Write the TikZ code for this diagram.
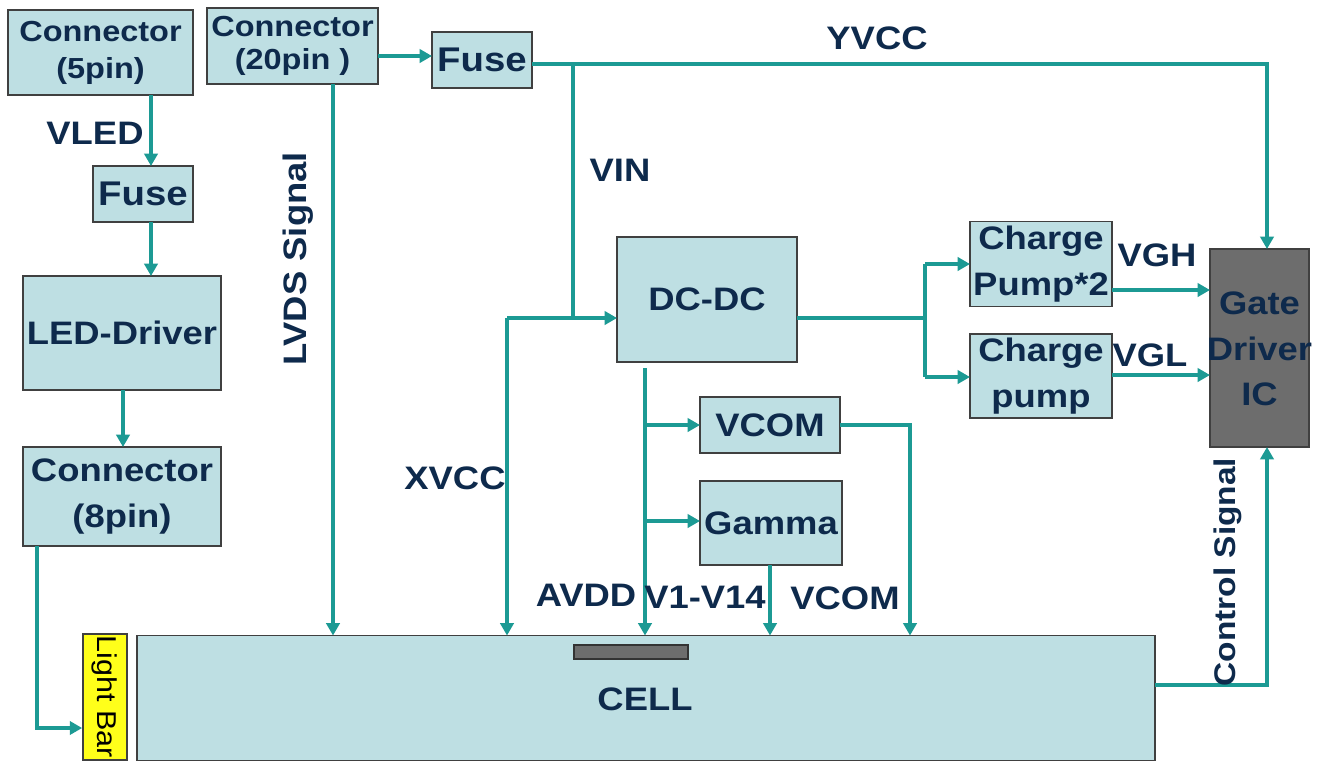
\documentclass[tikz,border=0pt]{standalone}
\usepackage{fontspec}
\setmainfont{Liberation Sans}[FakeStretch=1.12]
\usetikzlibrary{arrows.meta}
\definecolor{boxfill}{HTML}{BEDFE3}
\definecolor{linec}{HTML}{1C9A94}
\definecolor{txt}{HTML}{0E2A4C}
\definecolor{gatefill}{HTML}{6D6D6D}
\definecolor{lbar}{HTML}{FFFF1A}
\begin{document}
\begin{tikzpicture}[x=0.02cm,y=-0.02cm,
  box/.style={draw=black!75,line width=1pt,fill=boxfill,inner sep=0pt,outer sep=0pt,align=center,text=txt,
    font=\bfseries\fontsize{18.5}{22}\selectfont},
  tallbox/.style={box,font=\bfseries\fontsize{18.5}{26}\selectfont},
  smallbox/.style={box,font=\bfseries\fontsize{16.5}{21}\selectfont},
  ln/.style={draw=linec,line width=2.4pt},
  arr/.style={ln,-{Triangle[length=7pt,width=7.5pt]}},
  lbl/.style={text=txt,inner sep=0pt,font=\bfseries\fontsize{18.5}{20}\selectfont}]
\useasboundingbox[fill=white] (0,0) rectangle (1322,765);

% boxes
\node[smallbox,minimum width=3.70cm,minimum height=1.70cm] (c5) at (100.5,52.5) {Connector\\(5pin)};
\node[smallbox,minimum width=3.42cm,minimum height=1.52cm,font=\bfseries\fontsize{16.5}{19}\selectfont] (c20) at (292.5,46) {Connector\\(20pin )};
\node[box,minimum width=2.00cm,minimum height=1.12cm,font=\bfseries\fontsize{19.5}{22}\selectfont] (fuse1) at (482,60) {Fuse};
\node[box,minimum width=2.00cm,minimum height=1.12cm,font=\bfseries\fontsize{19.5}{22}\selectfont] (fuse2) at (143,194) {Fuse};
\node[box,minimum width=3.96cm,minimum height=2.28cm] (led) at (122,333) {LED-Driver};
\node[tallbox,minimum width=3.96cm,minimum height=1.98cm] (c8) at (122,496.5) {Connector\\(8pin)};
\node[draw=black!75,line width=1pt,fill=lbar,inner sep=0pt,minimum width=0.88cm,minimum height=2.52cm] (light) at (105,697) {};
\node[rotate=-90,inner sep=0pt,font=\fontsize{15.5}{17}\selectfont] (lighttxt) at (105,697) {Light Bar};
\node[box,minimum width=20.36cm,minimum height=2.50cm] (cell) at (646,698) {};
\node[draw=black!80,line width=1pt,fill=gatefill,inner sep=0pt,minimum width=2.28cm,minimum height=0.28cm] (bar) at (631,652) {};
\node[lbl,font=\bfseries\fontsize{18.5}{20}\selectfont] (celltxt) at (645,699) {CELL};
\node[box,minimum width=3.60cm,minimum height=2.50cm] (dcdc) at (707,299.5) {DC-DC};
\node[box,minimum width=2.80cm,minimum height=1.12cm] (vcom) at (770,425) {VCOM};
\node[box,minimum width=2.84cm,minimum height=1.68cm] (gamma) at (771,523) {Gamma};
\node[tallbox,minimum width=2.84cm,minimum height=1.70cm] (cp2) at (1041,264) {Charge\\Pump*2};
\node[tallbox,minimum width=2.84cm,minimum height=1.68cm] (cp1) at (1041,376) {Charge\\pump};
\node[box,fill=gatefill,minimum width=1.98cm,minimum height=3.96cm] (gate) at (1259.5,348) {};
\node[align=center,inner sep=0pt,text=txt,font=\bfseries\fontsize{18.5}{26}\selectfont] (gatetxt) at (1259.5,349) {Gate\\Driver\\IC};

% helper coordinates
\coordinate (xv) at (151,0);
\coordinate (x8) at (123,0);
\coordinate (k1) at (37,728);
\coordinate (xl) at (333,0);
\coordinate (j1) at (573,64);
\coordinate (k3) at (1267,64);
\coordinate (j2) at (573,318);
\coordinate (k2) at (507,318);
\coordinate (x645) at (645,0);
\coordinate (b1) at (645,425);
\coordinate (b2) at (645,521);
\coordinate (x770) at (770,0);
\coordinate (k4) at (910,425);
\coordinate (j3) at (925,318);
\coordinate (j4) at (925,264);
\coordinate (j5) at (925,377);
\coordinate (y290) at (0,290);
\coordinate (y375) at (0,375);
\coordinate (k5) at (1267,685);
\coordinate (y56) at (0,56);
\coordinate (d0) at (645,368);

% connectors
\draw[arr] (c5.south -| xv) -- (fuse2.north -| xv);
\draw[arr] (fuse2.south -| xv) -- (led.north -| xv);
\draw[arr] (led.south -| x8) -- (c8.north -| x8);
\draw[arr] (c8.south -| k1) -- (k1) -- (k1 -| light.west);
\draw[arr] (c20.east |- y56) -- (fuse1.west |- y56);
\draw[arr] (c20.south -| xl) -- (cell.north -| xl);
\draw[arr] (fuse1.east |- j1) -- (k3) -- (gate.north -| k3);
\draw[ln] (j1) -- (j2);
\draw[arr] (k2) -- (dcdc.west |- k2);
\draw[arr] (k2) -- (cell.north -| k2);
\draw[arr] (d0) -- (cell.north -| x645);
\draw[arr] (b1) -- (vcom.west |- b1);
\draw[arr] (b2) -- (gamma.west |- b2);
\draw[arr] (gamma.south -| x770) -- (cell.north -| x770);
\draw[arr] (vcom.east |- k4) -- (k4) -- (cell.north -| k4);
\draw[ln] (dcdc.east |- j3) -- (j3);
\draw[ln] (j4) -- (j5);
\draw[arr] (j4) -- (cp2.west |- j4);
\draw[arr] (j5) -- (cp1.west |- j5);
\draw[arr] (cp2.east |- y290) -- (gate.west |- y290);
\draw[arr] (cp1.east |- y375) -- (gate.west |- y375);
\draw[arr] (cell.east |- k5) -- (k5) -- (gate.south -| k5);

% labels
\node[lbl] (lvled) at (95,133) {VLED};
\node[lbl,rotate=90] (llvds) at (298,259) {LVDS Signal};
\node[lbl] (lyvcc) at (877,38) {YVCC};
\node[lbl] (lvin) at (620,170) {VIN};
\node[lbl] (lxvcc) at (455,478) {XVCC};
\node[lbl] (lavdd) at (586,595) {AVDD};
\node[lbl] (lv1) at (705,597) {V1-V14};
\node[lbl] (lvcom) at (845,598) {VCOM};
\node[lbl] (lvgh) at (1157,255) {VGH};
\node[lbl] (lvgl) at (1150,355) {VGL};
\node[lbl,rotate=90,font=\bfseries\fontsize{17}{20}\selectfont] (lctrl) at (1228,572) {Control Signal};
\end{tikzpicture}
\end{document}
